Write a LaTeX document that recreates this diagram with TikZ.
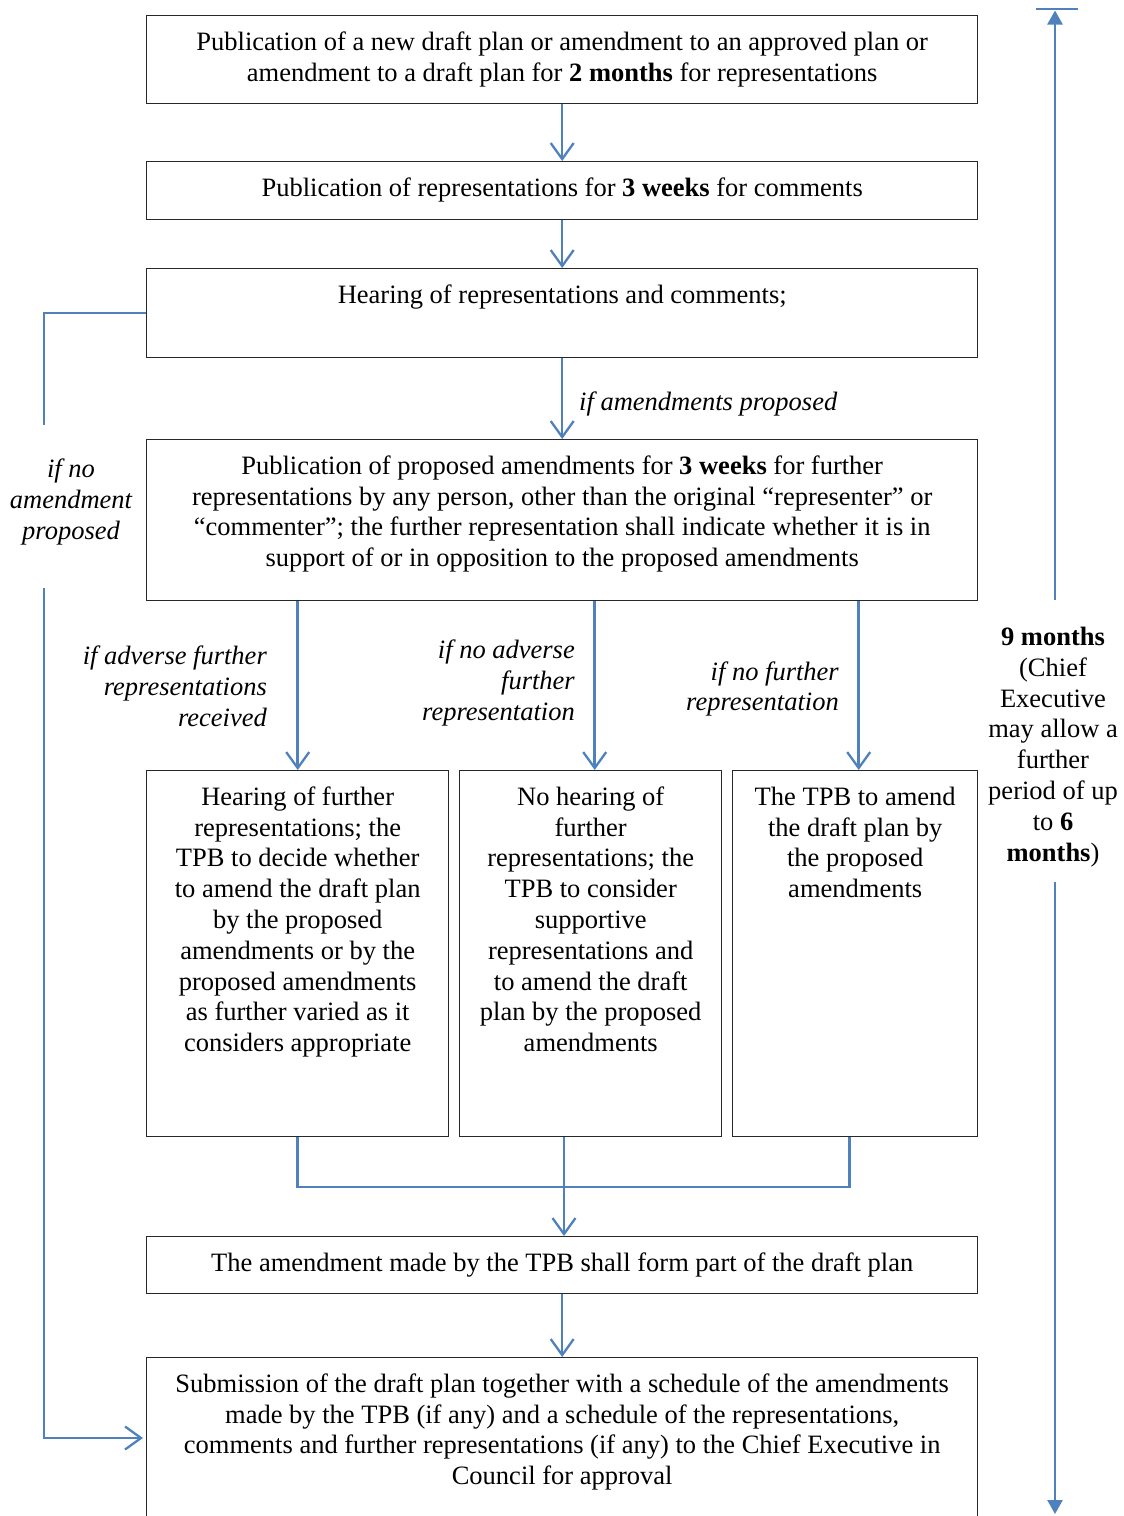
\documentclass[tikz,border=0pt]{standalone}
\usepackage{fontspec}
\setmainfont{Liberation Serif}
\usetikzlibrary{arrows.meta,calc}
\definecolor{lineblue}{RGB}{79,129,189}
\definecolor{boxline}{RGB}{40,40,40}
\tikzset{
  box/.style={draw=boxline, line width=1.4pt, inner sep=0pt, anchor=north west},
  txt/.style={inner sep=0pt, align=center, anchor=north, font=\fontsize{26.5}{30.8}\selectfont},
  lab/.style={inner sep=0pt, align=right, font=\fontsize{26.5}{30.8}\selectfont\itshape},
  conn/.style={draw=lineblue, line width=2.5pt},
  arr/.style={conn, -{Straight Barb[length=16pt,width=23pt,line width=2.3pt]}},
  tri/.style={conn, -{Triangle[length=14pt,width=15pt]}, fill=lineblue}
}
\begin{document}
\begin{tikzpicture}[x=1pt,y=-1pt]
\useasboundingbox (0,0) rectangle (1124,1516);
% boxes
\node[box, minimum width=831pt, minimum height=88pt] (b1) at (146,15) {};
\node[box, minimum width=831pt, minimum height=58pt] (b2) at (146,161) {};
\node[box, minimum width=831pt, minimum height=89pt] (b3) at (146,268) {};
\node[box, minimum width=831pt, minimum height=161pt] (b4) at (146,439) {};
\node[box, minimum width=302pt, minimum height=366pt] (b5) at (146,770) {};
\node[box, minimum width=262pt, minimum height=366pt] (b6) at (459,770) {};
\node[box, minimum width=245pt, minimum height=366pt] (b7) at (732,770) {};
\node[box, minimum width=831pt, minimum height=57pt] (b8) at (146,1236) {};
\node[box, minimum width=831pt, minimum height=200pt] (b9) at (146,1357) {};
% texts
\node[txt] (t1) at ($(b1.north)+(0,13.5)$) {\strut Publication of a new draft plan or amendment to an approved plan or\\amendment to a draft plan for \textbf{2 months} for representations};
\node[txt] (t2) at ($(b2.north)+(0,13.5)$) {\strut Publication of representations for \textbf{3 weeks} for comments};
\node[txt] (t3) at ($(b3.north)+(0,13.5)$) {\strut Hearing of representations and comments;};
\node[txt] (t4) at ($(b4.north)+(0,13.5)$) {\strut Publication of proposed amendments for \textbf{3 weeks} for further\\representations by any person, other than the original \textquotedblleft representer\textquotedblright{} or\\\textquotedblleft commenter\textquotedblright; the further representation shall indicate whether it is in\\support of or in opposition to the proposed amendments};
\node[txt] (t5) at ($(b5.north)+(0,13.5)$) {\strut Hearing of further\\representations; the\\TPB to decide whether\\to amend the draft plan\\by the proposed\\amendments or by the\\proposed amendments\\as further varied as it\\considers appropriate};
\node[txt] (t6) at ($(b6.north)+(0,13.5)$) {\strut No hearing of\\further\\representations; the\\TPB to consider\\supportive\\representations and\\to amend the draft\\plan by the proposed\\amendments};
\node[txt] (t7) at ($(b7.north)+(0,13.5)$) {\strut The TPB to amend\\the draft plan by\\the proposed\\amendments};
\node[txt] (t8) at ($(b8.north)+(0,13.5)$) {\strut The amendment made by the TPB shall form part of the draft plan};
\node[txt] (t9) at ($(b9.north)+(0,13.5)$) {\strut Submission of the draft plan together with a schedule of the amendments\\made by the TPB (if any) and a schedule of the representations,\\comments and further representations (if any) to the Chief Executive in\\Council for approval};
% main arrows
\draw[arr] (b1.south) -- (b2.north);
\draw[arr] (b2.south) -- (b3.north);
\draw[arr] (b3.south) -- (b4.north);
\node[lab, anchor=west] (l1) at (579,404) {if amendments proposed};
% branch arrows
\draw[arr] (b4.south -| b5.north) -- (b5.north);
\draw[arr] ([xshift=4pt]b6.north |- b4.south) -- ([xshift=4pt]b6.north);
\draw[arr] ([xshift=3.5pt]b7.north |- b4.south) -- ([xshift=3.5pt]b7.north);
\node[lab, anchor=east] (l2) at (267,686) {if adverse further\\representations\\received};
\node[lab, anchor=east] (l3) at (575,683) {if no adverse\\further\\representation};
\node[lab, anchor=east] (l4) at (839,689) {if no further\\representation};
% merge
\coordinate (m) at (564,1187);
\draw[conn] (b5.south) |- (m);
\draw[conn] ([xshift=-5.5pt]b7.south) |- (m);
\draw[conn] (b6.south -| m) -- (m);
\draw[arr] (m) -- (b8.north -| m);
\draw[arr] (b8.south) -- (b9.north);
% left bypass
\coordinate (la) at (44,313);
\coordinate (lb) at (44,425);
\coordinate (lc) at (44,588);
\coordinate (ld) at (44,1438);
\node[lab, align=center] (l5) at (71,502) {if no\\amendment\\proposed};
\draw[conn] (b3.west |- la) -- (la) -- (lb);
\draw[arr] (lc) -- (ld) -- ($(b9.west |- ld)+(-3,0)$);
% right time span
\coordinate (rt) at (1055,9);
\coordinate (rb) at (1055,1514);
\coordinate (r1) at (1055,600);
\coordinate (r2) at (1055,882);
\draw[conn] (1036,9) -- (1078,9);
\draw[tri] (r1) -- ($(rt)+(0,1.5)$);
\draw[tri] (r2) -- (rb);
\node[txt, anchor=center] (nine) at (1053,747) {\textbf{9 months}\\(Chief\\Executive\\may allow a\\further\\period of up\\to \textbf{6}\\\textbf{months})};
\end{tikzpicture}
\end{document}
